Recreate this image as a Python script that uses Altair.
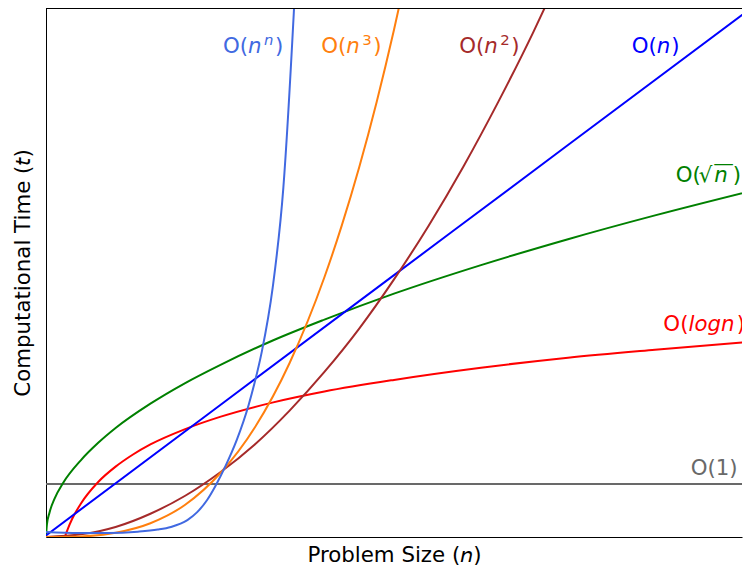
import altair as alt
import pandas as pd

# ---------------- data (x: problem size, y: time) ----------------
names = ["O(1)", "O(logn)", "O(sqrt n)", "O(n)", "O(n^2)", "O(n^3)", "O(n^n)"]
colors = ["#696969", "#FF0000", "#008000", "#0000FF", "#A52A2A", "#FF7F0E", "#4169E1"]

const_x = [0.0, 20.0, 40.5]
const_y = [1.0, 1.0, 1.0]

log_x = [1.08, 1.25, 1.5, 2, 3, 4, 5, 6, 8, 10, 13, 16, 20, 25, 30, 35, 40.5]
log_y = [0.0, 0.15, 0.34, 0.63, 1.04, 1.33, 1.56, 1.75, 2.04, 2.27, 2.54, 2.75, 2.97, 3.20, 3.39, 3.54, 3.69]

sqrt_x = [0, 0.05, 0.2, 0.5, 1, 2, 3, 4, 6, 8, 10, 13, 16, 20, 25, 30, 35, 40.5]
sqrt_y = [0.0, 0.23, 0.46, 0.73, 1.03, 1.45, 1.78, 2.06, 2.52, 2.91, 3.25, 3.71, 4.11, 4.60, 5.14, 5.63, 6.08, 6.54]

lin_x = [0, 10, 20, 30, 40.5]
lin_y = [0.03, 2.49, 4.95, 7.41, 9.99]

sq_x = [0, 2, 4, 6, 8, 10, 12, 14, 16, 18, 20, 22, 24, 26, 28, 29]
sq_y = [0.0, 0.05, 0.19, 0.44, 0.78, 1.22, 1.75, 2.39, 3.12, 3.94, 4.87, 5.89, 7.01, 8.23, 9.54, 10.24]

cube_x = [0, 2, 4, 6, 8, 10, 12, 14, 16, 17, 18, 19, 20, 20.5]
cube_y = [0.0, 0.01, 0.08, 0.26, 0.61, 1.20, 2.07, 3.29, 4.91, 5.89, 6.99, 8.22, 9.59, 10.33]

exp_x = [0, 1.875, 3.58, 5.28, 6.42, 7.18, 8.125, 8.69, 9.26, 9.73, 10.3, 10.97, 11.65, 11.97, 12.4, 13.03, 13.64, 14.24, 14.5]
exp_y = [0.094, 0.075, 0.075, 0.10, 0.14, 0.19, 0.32, 0.47, 0.70, 0.96, 1.33, 1.84, 2.50, 2.89, 3.50, 4.72, 6.6, 9.9, 11.6]

series = [
    ("O(1)", const_x, const_y),
    ("O(logn)", log_x, log_y),
    ("O(sqrt n)", sqrt_x, sqrt_y),
    ("O(n)", lin_x, lin_y),
    ("O(n^2)", sq_x, sq_y),
    ("O(n^3)", cube_x, cube_y),
    ("O(n^n)", exp_x, exp_y),
]

rows = []
for name, xs, ys in series:
    for xv, yv in zip(xs, ys):
        rows.append({"series": name, "n": xv, "t": yv})
df = pd.DataFrame(rows)

# label anchors (left edge, baseline) in data units
label_x = [37.05, 35.48, 36.19, 33.66, 23.75, 15.82, 10.17]
label_y = [1.165, 3.89, 6.71, 9.154, 9.154, 9.154, 9.154]

# ---------------- styling ----------------
F = 21.33
FS = 14.9
FONT = "DejaVu Sans"
W, H = 696, 529
XMAX = 40.0

segments = {
    "O(1)": [("O(1)", 0, 0, "normal", F)],
    "O(logn)": [("O(", 0, 0, "normal", F), ("logn", 25.1, 0, "italic", F), (")", 73.5, 0, "normal", F)],
    "O(sqrt n)": [("O(", 0, 0, "normal", F), ("\u221a", 23, 0, "normal", F),
                  ("n", 38.5, 0, "italic", F), ("\u2015", 38.5, -12, "normal", 18.7),
                  (")", 57, 0, "normal", F)],
    "O(n)": [("O(", 0, 0, "normal", F), ("n", 25.1, 0, "italic", F), (")", 39.6, 0, "normal", F)],
    "O(n^2)": [("O(", 0, 0, "normal", F), ("n", 25.1, 0, "italic", F), ("2", 41, -8, "normal", FS),
               (")", 52, 0, "normal", F)],
    "O(n^3)": [("O(", 0, 0, "normal", F), ("n", 25.1, 0, "italic", F), ("3", 41, -8, "normal", FS),
               (")", 52, 0, "normal", F)],
    "O(n^n)": [("O(", 0, 0, "normal", F), ("n", 25.1, 0, "italic", F), ("n", 41, -8, "italic", FS),
               (")", 52, 0, "normal", F)],
}

x_scale = alt.Scale(domain=[0, XMAX], nice=False, zero=False)
y_scale = alt.Scale(domain=[0, 10], nice=False, zero=False)

x_axis = alt.Axis(title="Problem Size (\U0001D62F)", labels=False, ticks=False, grid=False, domain=True,
                  domainColor="black", domainWidth=1,
                  titleFont=FONT, titleFontSize=F, titleFontWeight="normal", titleColor="black",
                  titlePadding=7)
y_axis = alt.Axis(title="Computational Time (\U0001D635)", labels=False, ticks=False, grid=False, domain=True,
                  domainColor="black", domainWidth=1,
                  titleFont=FONT, titleFontSize=F, titleFontWeight="normal", titleColor="black",
                  titlePadding=13)

lines = alt.Chart(df).mark_line(strokeWidth=2, clip=True, interpolate="monotone").encode(
    x=alt.X("n:Q", scale=x_scale, axis=x_axis),
    y=alt.Y("t:Q", scale=y_scale, axis=y_axis),
    color=alt.Color("series:N", scale=alt.Scale(domain=names, range=colors), legend=None),
    detail="series:N",
)

# top frame line of the plot area
top_frame = alt.Chart(pd.DataFrame({"k": [0]})).mark_rule(color="black", strokeWidth=1).encode(
    x=alt.value(0), x2=alt.value(W), y=alt.value(0.5)
)

layers = [lines, top_frame]
for name, col, lx, ly in zip(names, colors, label_x, label_y):
    for txt, dx, dy, style, size in segments[name]:
        d = pd.DataFrame([{"n": lx, "t": ly, "txt": txt}])
        layers.append(
            alt.Chart(d).mark_text(align="left", baseline="alphabetic", dx=dx, dy=dy, font=FONT,
                                   fontSize=size, fontStyle=style, color=col, clip=True).encode(
                x=alt.X("n:Q", scale=x_scale, axis=x_axis),
                y=alt.Y("t:Q", scale=y_scale, axis=y_axis),
                text="txt:N",
            )
        )

chart = alt.layer(*layers).properties(
    width=W, height=H, padding={"left": 4, "top": 0, "right": 0, "bottom": 0}
).configure_view(stroke=None)

chart.save("out.html", embed_options={"renderer": "svg", "actions": False})
